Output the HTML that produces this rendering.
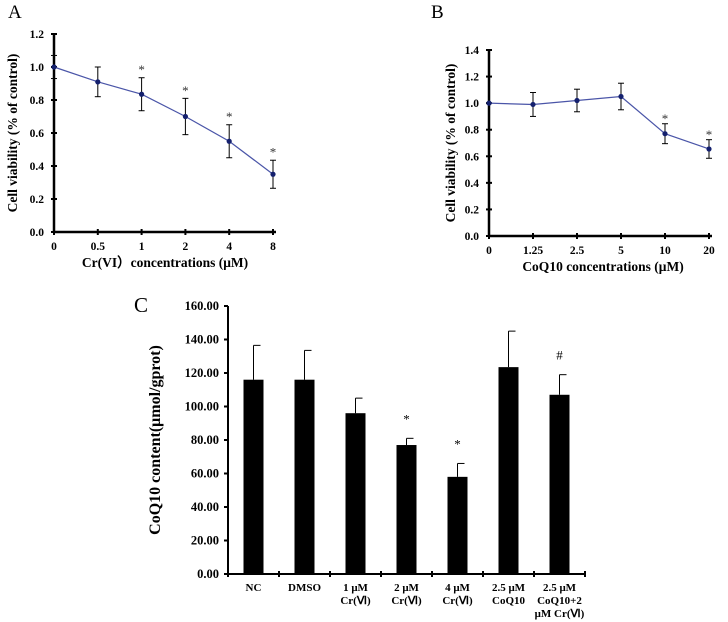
<!DOCTYPE html>
<html><head><meta charset="utf-8"><style>
body{margin:0;background:#fff;}
svg{display:block;font-family:"Liberation Serif",serif;font-weight:bold;}
</style></head><body>
<svg id="s" width="728" height="622" xmlns="http://www.w3.org/2000/svg"></svg>
<script>
const aCats=["0","0.5","1","2","4","8"];
const aVals=[1.0,0.91,0.835,0.70,0.55,0.35];
const aErr=[0.07,0.09,0.10,0.11,0.10,0.085];
const aSig=["","","*","*","*","*"];
const aTicks=[0,0.2,0.4,0.6,0.8,1.0,1.2];
const bCats=["0","1.25","2.5","5","10","20"];
const bVals=[1.0,0.99,1.02,1.05,0.77,0.655];
const bErr=[0,0.09,0.085,0.1,0.075,0.07];
const bSig=["","","","","*","*"];
const bTicks=[0,0.2,0.4,0.6,0.8,1.0,1.2,1.4];
const cCats=[["NC"],["DMSO"],["1 μM","Cr(Ⅵ)"],["2 μM","Cr(Ⅵ)"],["4  μM","Cr(Ⅵ)"],["2.5 μM","CoQ10"],["2.5 μM","CoQ10+2","μM Cr(Ⅵ)"]];
const cVals=[116,116,96,77,58,123.5,107];
const cErr=[20.5,17.5,9,4,8,21.5,12];
const cSig=["","","","*","*","","#"];
const cTicks=[0,20,40,60,80,100,120,140,160];

const svg=document.getElementById('s');
const NS="http://www.w3.org/2000/svg";
function el(t,a,txt){const e=document.createElementNS(NS,t);for(const k in a)e.setAttribute(k,a[k]);if(txt!==undefined)e.textContent=txt;svg.appendChild(e);return e;}

function lineChart(o){
  const y=v=>o.y0-(v-0)/(o.ymax)*(o.y0-o.y1);
  const x=i=>o.x0+i*o.dx;
  let e=el('line',{x1:o.x0,y1:o.y0,x2:o.x0,y2:o.y1-1,stroke:'#000','stroke-width':2.5});
  
  e=el('line',{x1:o.x0,y1:o.y0,x2:x(o.cats.length-1)+3,y2:o.y0,stroke:'#000','stroke-width':2.5});
  
  o.ticks.forEach(t=>{
    el('line',{x1:o.x0-3,y1:y(t),x2:o.x0+3,y2:y(t),stroke:'#000','stroke-width':2});
    e=el('text',{x:o.x0-10,y:y(t)+4,'font-size':11.5,'text-anchor':'end'},t.toFixed(1));
    
  });
  o.cats.forEach((c,i)=>{
    el('line',{x1:x(i),y1:o.y0-3,x2:x(i),y2:o.y0+3,stroke:'#000','stroke-width':2});
    e=el('text',{x:x(i),y:o.y0+18,'font-size':11.5,'text-anchor':'middle'},c);
    
  });
  let d=o.vals.map((v,i)=>(i?'L':'M')+x(i)+','+y(v)).join(' ');
  e=el('path',{d:d,fill:'none',stroke:'#4a55a8','stroke-width':1.2});
  
  o.vals.forEach((v,i)=>{
    const er=o.err[i];
    if(er>0){
      el('line',{x1:x(i),y1:y(v+er),x2:x(i),y2:y(v-er),stroke:'#000','stroke-width':1});
      el('line',{x1:x(i)-3,y1:y(v+er),x2:x(i)+3,y2:y(v+er),stroke:'#000','stroke-width':1});
      el('line',{x1:x(i)-3,y1:y(v-er),x2:x(i)+3,y2:y(v-er),stroke:'#000','stroke-width':1});
    }
    e=el('circle',{cx:x(i),cy:y(v),r:2.6,fill:'#14206e'});
    
    if(o.sig[i]){e=el('text',{x:x(i),y:y(v+er+o.sigOff)+8,'font-size':13,'font-weight':'normal','text-anchor':'middle',fill:'#333'},o.sig[i]);
      }
  });
  e=el('text',{x:o.xtx,y:o.y0+35,'font-size':13.5,'text-anchor':'middle'},o.xt);
  
  e=el('text',{x:0,y:0,'font-size':13.5,'text-anchor':'middle',transform:`translate(${o.ytx},${(o.y0+o.y1)/2}) rotate(-90)`},'Cell viability (% of control)');
  
  e=el('text',{x:o.lx,y:18,'font-size':19,'font-weight':'normal'},o.label);
  
}
lineChart({id:'panel-a',cats:aCats,vals:aVals,err:aErr,sig:aSig,ticks:aTicks,x0:54,dx:43.8,y0:232,y1:34,ymax:1.2,xt:'Cr(VI\uFF09concentrations (μM)',xtx:165,ytx:17,lx:8,label:'A',sigOff:0.07});
lineChart({id:'panel-b',cats:bCats,vals:bVals,err:bErr,sig:bSig,ticks:bTicks,x0:489,dx:44,y0:236,y1:50,ymax:1.4,xt:'CoQ10 concentrations (μM)',xtx:603,ytx:455,lx:431,label:'B',sigOff:0.065});

(function(){
  const x0=228,y0=574,y1=306,bw=51,ymax=160;
  const y=v=>y0-v/ymax*(y0-y1);
  const cx=i=>x0+bw*(i+0.5);
  let e=el('line',{x1:x0,y1:y0,x2:x0,y2:y1,stroke:'#000','stroke-width':2});
  
  e=el('line',{x1:x0,y1:y0,x2:x0+bw*cCats.length,y2:y0,stroke:'#000','stroke-width':2});
  
  cTicks.forEach(t=>{
    el('line',{x1:x0-4,y1:y(t),x2:x0,y2:y(t),stroke:'#000','stroke-width':2});
    e=el('text',{x:x0-9,y:y(t)+4,'font-size':12.5,'text-anchor':'end'},t.toFixed(2));
    
  });
  for(let i=0;i<=cCats.length;i++)el('line',{x1:x0+bw*i,y1:y0-3,x2:x0+bw*i,y2:y0+3,stroke:'#000','stroke-width':2});
  cVals.forEach((v,i)=>{
    const er=cErr[i];
    el('line',{x1:cx(i),y1:y(v),x2:cx(i),y2:y(v+er),stroke:'#000','stroke-width':1});
    el('line',{x1:cx(i),y1:y(v+er),x2:cx(i)+7,y2:y(v+er),stroke:'#000','stroke-width':1});
    e=el('rect',{x:cx(i)-10,y:y(v),width:20,height:y0-y(v),fill:'#000'});
    
    if(cSig[i]){e=el('text',{x:cx(i),y:y(v+er)-15,'font-size':13,'font-weight':'normal','text-anchor':'middle'},cSig[i]);
      }
    cCats[i].forEach((s,j)=>{
      e=el('text',{x:cx(i),y:y0+17+j*13,'font-size':11,'text-anchor':'middle'},s);
      
    });
  });
  e=el('text',{x:0,y:0,'font-size':16,'text-anchor':'middle',transform:`translate(160,${(y0+y1)/2}) rotate(-90)`},'CoQ10 content(μmol/gprot)');
  
  e=el('text',{x:134,y:312,'font-size':21,'font-weight':'normal'},'C');
  
})();
</script>
</body></html>
